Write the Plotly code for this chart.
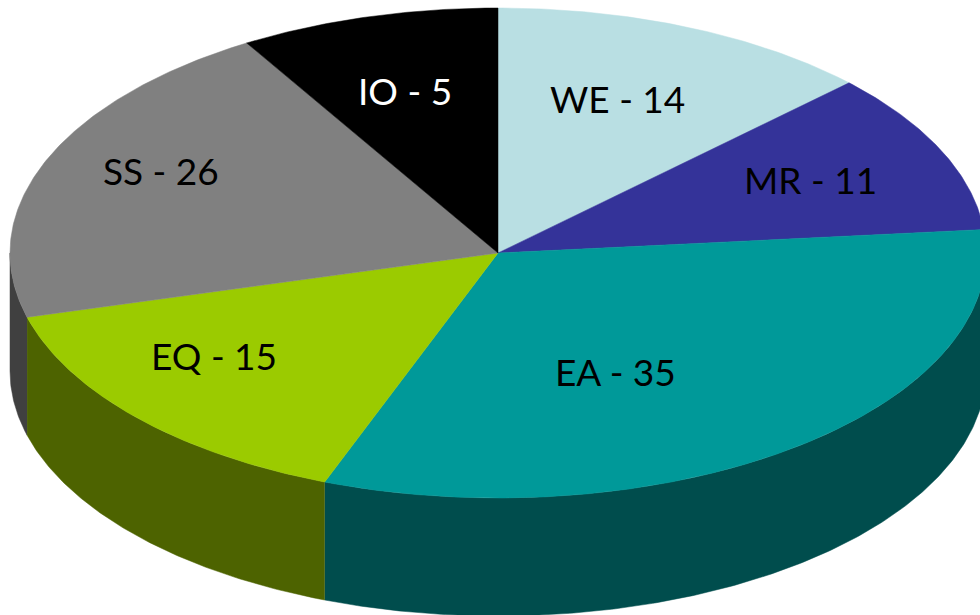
import numpy as np
import plotly.graph_objects as go

# Slice names and printed values
names = ["WE", "MR", "EA", "EQ", "SS", "IO"]
printed = [14, 11, 35, 15, 26, 5]
# Slice sweep (degrees); the printed numbers do not set the drawn sizes
sweep = [46.0, 38.5, 116.3, 54.0, 74.2, 31.0]
top_colors = ["#B9DFE3", "#343399", "#009999", "#9BCB00", "#808080", "#000000"]
side_colors = ["#5C7073", "#1A1A4D", "#004D4D", "#4D6300", "#404040", "#000000"]
label_xy = [(617.5, 98), (810.5, 179), (615, 371), (214, 355), (161, 170), (405, 90)]

CX, CY, RX, RY, DEPTH = 498, 253, 488, 245, 118


def arc(a0, a1, dy=0):
    t = np.radians(np.linspace(a0, a1, max(int(abs(a1 - a0) * 2), 2)))
    return CX + RX * np.sin(t), CY + dy - RY * np.cos(t)


edges = np.concatenate([[0], np.cumsum(sweep)])
fig = go.Figure()

# Side walls: only the front half of the rim (90..270 degrees) is visible
for i in range(len(names)):
    a0, a1 = max(edges[i], 90), min(edges[i + 1], 270)
    if a1 <= a0:
        continue
    x0, y0 = arc(a0, a1)
    x1, y1 = arc(a1, a0, DEPTH)
    fig.add_trace(go.Scatter(
        x=np.concatenate([x0, x1]), y=np.concatenate([y0, y1]),
        mode="lines", fill="toself", fillcolor=side_colors[i],
        line=dict(width=0.5, color=side_colors[i]), hoverinfo="skip", showlegend=False,
    ))

# Top face slices
for i in range(len(names)):
    x0, y0 = arc(edges[i], edges[i + 1])
    fig.add_trace(go.Scatter(
        x=np.concatenate([[CX], x0, [CX]]), y=np.concatenate([[CY], y0, [CY]]),
        mode="lines", fill="toself", fillcolor=top_colors[i],
        line=dict(width=0.5, color=top_colors[i]), name=names[i], showlegend=False,
    ))

# Labels
for i, (n, v) in enumerate(zip(names, printed)):
    fig.add_annotation(
        x=label_xy[i][0], y=label_xy[i][1], text=f"{n} - {v}", showarrow=False,
        font=dict(family="Lato", size=37, color="#FFFFFF" if top_colors[i] == "#000000" else "#000000"),
    )

fig.update_layout(
    width=980, height=615, margin=dict(l=0, r=0, t=0, b=0),
    paper_bgcolor="white", plot_bgcolor="white",
    xaxis=dict(range=[0, 980], visible=False),
    yaxis=dict(range=[615, 0], visible=False),
)
fig.write_html(
    "out.html",
    config={"displayModeBar": False},
    post_script="document.body.style.margin='0';document.body.style.overflow='hidden';",
)
